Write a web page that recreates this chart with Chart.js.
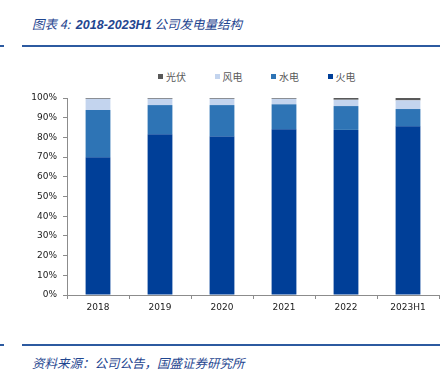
<!DOCTYPE html>
<html>
<head>
<meta charset="utf-8">
<script src="https://cdn.jsdelivr.net/npm/chart.js@4/dist/chart.umd.min.js"></script>
<style>
  html, body { margin: 0; padding: 0; background: #fff; }
  body { width: 445px; height: 375px; position: relative; overflow: hidden; }
  .title { position: absolute; left: 32px; top: 14px; font: italic 12.5px "Noto Sans CJK SC", sans-serif; color: #1f4690; white-space: nowrap; }
  .title b { font-family: "Liberation Sans", sans-serif; font-weight: bold; font-size: 12.5px; }
  .rule { position: absolute; height: 2px; background: #2c5aa0; }
  .note { position: absolute; left: 32px; top: 353px; font: italic 12.5px "Noto Sans CJK SC", sans-serif; color: #1f4690; white-space: nowrap; }
  #legend { position: absolute; left: 158px; top: 69px; display: flex; font: 10px "Noto Sans CJK SC", sans-serif; color: #595959; }
  #legend span { display: flex; align-items: center; width: 56.5px; }
  #legend i { display: inline-block; width: 5px; height: 5px; margin-right: 3px; }
  canvas { position: absolute; left: 0; top: 60px; }
</style>
</head>
<body>
<div class="title">图表 4:&nbsp; <b>2018-2023H1</b> 公司发电量结构</div>
<div class="rule" style="left:0;width:4px;top:45px;"></div>
<div class="rule" style="left:22px;width:418px;top:45px;"></div>
<div id="legend"></div>
<canvas id="c" width="445" height="265"></canvas>
<div class="rule" style="left:0;width:4px;top:344px;"></div>
<div class="rule" style="left:22px;width:418px;top:344px;"></div>
<div class="note">资料来源：公司公告，国盛证券研究所</div>
<script>
// 类别与各电源占比 (%)
var years = ['2018', '2019', '2020', '2021', '2022', '2023H1']
var thermal = [69.9, 81.6, 80.4, 84.1, 83.8, 85.6]   // 火电
var hydro = [24.0, 14.8, 16.0, 12.7, 12.1, 8.8]      // 水电
var wind = [5.7, 3.2, 3.2, 2.8, 3.2, 4.4]            // 风电
var solar = [0.4, 0.4, 0.4, 0.4, 0.9, 1.2]           // 光伏
var names = ['火电', '水电', '风电', '光伏']
var colors = ['#003f98', '#2e74b5', '#c3d4ee', '#595959']
var yTicks = [0, 10, 20, 30, 40, 50, 60, 70, 80, 90, 100]

var series = [thermal, hydro, wind, solar]
var datasets = series.map(function (d, i) {
  return { label: names[i], data: d, backgroundColor: colors[i], borderWidth: 0 }
})

// 图例：光伏、风电、水电、火电
var legend = document.getElementById('legend')
for (var i = names.length - 1; i >= 0; i--) {
  var s = document.createElement('span')
  s.innerHTML = '<i style="background:' + colors[i] + '"></i>' + names[i]
  legend.appendChild(s)
}

var tickFont = { family: 'DejaVu Sans', size: 9 }
new Chart(document.getElementById('c'), {
  type: 'bar',
  data: { labels: years, datasets: datasets },
  options: {
    responsive: false,
    animation: false,
    devicePixelRatio: 1,
    layout: { padding: { top: 38, right: 6, left: 0, bottom: 0 } },
    plugins: { legend: { display: false }, tooltip: { enabled: false } },
    datasets: { bar: { categoryPercentage: 1, barPercentage: 0.4 } },
    scales: {
      x: {
        stacked: true,
        grid: { display: true, drawOnChartArea: false, tickLength: 4, color: '#8c8c8c' },
        border: { color: '#8c8c8c' },
        ticks: { font: tickFont, color: '#1a1a1a', padding: 3, maxRotation: 0 },
        afterFit: function (s) { s.height = 30 }
      },
      y: {
        stacked: true,
        min: 0,
        max: 100,
        afterBuildTicks: function (s) { s.ticks = yTicks.map(function (v) { return { value: v } }) },
        grid: { display: true, drawOnChartArea: false, tickLength: 4, color: '#8c8c8c' },
        border: { color: '#8c8c8c' },
        ticks: { font: tickFont, color: '#1a1a1a', padding: 6, callback: function (v) { return v + '%' } },
        afterFit: function (s) { s.width = 67 }
      }
    }
  }
})
</script>
</body>
</html>
